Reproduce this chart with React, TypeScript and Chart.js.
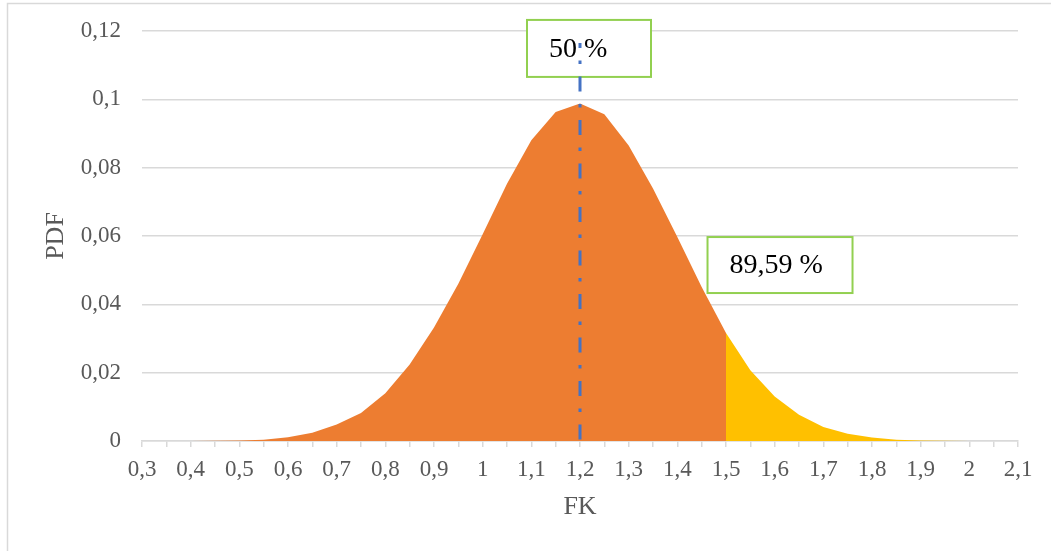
import React, { useEffect, useRef } from 'react';
import { Chart, registerables } from 'chart.js';

Chart.register(...registerables);

// FK values and PDF (step 0.05)
const fkLeft = [0.3, 0.35, 0.4, 0.45, 0.5, 0.55, 0.6, 0.65, 0.7, 0.75, 0.8, 0.85, 0.9, 0.95, 1.0, 1.05, 1.1, 1.15, 1.2, 1.25, 1.3, 1.35, 1.4, 1.45, 1.5];
const pdfLeft = [0.000003, 0.000008, 0.00002, 0.00006, 0.00016, 0.0004, 0.0011, 0.0024, 0.0048, 0.0082, 0.014, 0.0224, 0.0332, 0.046, 0.0605, 0.0753, 0.088, 0.0963, 0.0988, 0.0956, 0.0865, 0.0739, 0.0597, 0.0451, 0.0316];
const fkRight = [1.5, 1.55, 1.6, 1.65, 1.7, 1.75, 1.8, 1.85, 1.9, 1.95, 2.0, 2.05, 2.1];
const pdfRight = [0.0316, 0.0207, 0.013, 0.0077, 0.0041, 0.0021, 0.001, 0.0004, 0.00015, 0.00005, 0.00002, 0.000005, 0.000001];

// mean line (drawn top to bottom)
const meanFK = [1.2, 1.2];
const meanPDF = [0.1165, -0.0016];

// axis ranges
const xMin = 0.3;
const xMax = 2.1;
const xStep = 0.05;
const yMin = 0;
const yMax = 0.12;
const yStep = 0.02;

// annotation labels
const annotationTexts = ['50 %', '89,59 %'];
const annotationFK = [1.2185, 1.611];
const annotationPDF = [0.1149, 0.0515];

const SERIF = '"Liberation Serif", "Times New Roman", serif';

const toComma = (v: number, digits: number) =>
  String(parseFloat(v.toFixed(digits))).replace('.', ',');

const boxPlugin = {
  id: 'boxes',
  beforeDraw(chart: any) {
    const ctx = chart.ctx;
    ctx.save();
    ctx.fillStyle = '#ffffff';
    ctx.fillRect(0, 0, chart.width, chart.height);
    ctx.strokeStyle = '#d9d9d9';
    ctx.lineWidth = 1.5;
    ctx.strokeRect(7.5, 3.5, chart.width + 20, chart.height + 20);
    ctx.restore();
  },
  beforeDatasetsDraw(chart: any) {
    const { ctx, scales } = chart;
    const boxW = [124, 145];
    const boxH = [57, 56];
    ctx.save();
    annotationTexts.forEach((t, i) => {
      const cx = scales.x.getPixelForValue(annotationFK[i]);
      const cy = scales.y.getPixelForValue(annotationPDF[i]);
      const left = cx - boxW[i] / 2;
      const top = cy - boxH[i] / 2;
      ctx.fillStyle = '#ffffff';
      ctx.fillRect(left, top, boxW[i], boxH[i]);
      ctx.strokeStyle = '#92D050';
      ctx.lineWidth = 2;
      ctx.strokeRect(left, top, boxW[i], boxH[i]);
      ctx.fillStyle = '#000000';
      ctx.font = `28px ${SERIF}`;
      ctx.textAlign = 'left';
      ctx.textBaseline = 'middle';
      ctx.fillText(t, left + 22, cy + 1);
    });
    ctx.restore();
  },
};

export default function App() {
  const ref = useRef<HTMLCanvasElement>(null);

  useEffect(() => {
    if (!ref.current) return;
    const chart = new Chart(ref.current, {
      type: 'line',
      data: {
        datasets: [
          {
            label: 'mean',
            data: meanFK.map((x, i) => ({ x, y: meanPDF[i] })),
            borderColor: '#4472C4',
            borderWidth: 3,
            borderDash: [15, 12.5, 3.5, 12.5],
            borderDashOffset: 10,
            borderCapStyle: 'butt',
            pointRadius: 0,
            fill: false,
            clip: false as any,
            order: 0,
          },
          {
            label: 'left',
            data: fkLeft.map((x, i) => ({ x, y: pdfLeft[i] })),
            borderWidth: 0,
            borderColor: 'rgba(0,0,0,0)',
            backgroundColor: '#ED7D31',
            pointRadius: 0,
            fill: 'origin',
            tension: 0,
            order: 1,
          },
          {
            label: 'right',
            data: fkRight.map((x, i) => ({ x, y: pdfRight[i] })),
            borderWidth: 0,
            borderColor: 'rgba(0,0,0,0)',
            backgroundColor: '#FFC000',
            pointRadius: 0,
            fill: 'origin',
            tension: 0,
            order: 2,
          },
        ],
      },
      options: {
        animation: false,
        responsive: false,
        devicePixelRatio: 1,
        layout: { padding: { left: 0, top: 31, right: 33, bottom: 0 } },
        plugins: {
          legend: { display: false },
          tooltip: { enabled: false },
          title: { display: false },
        },
        scales: {
          x: {
            type: 'linear',
            min: xMin,
            max: xMax,
            afterFit: (s: any) => {
              s.height = 110;
              s.paddingLeft = 0;
              s.paddingRight = 0;
            },
            afterBuildTicks: (s: any) => {
              const ticks = [];
              const n = Math.round((xMax - xMin) / xStep);
              for (let i = 0; i <= n; i++) ticks.push({ value: parseFloat((xMin + i * xStep).toFixed(2)) });
              s.ticks = ticks;
            },
            ticks: {
              autoSkip: false,
              maxRotation: 0,
              minRotation: 0,
              padding: 9,
              color: '#595959',
              font: { family: SERIF, size: 23 },
              callback: (v: any) => {
                const val = Number(v);
                if (Math.round(val * 100) % 10 !== 0) return '';
                return toComma(val, 1);
              },
            },
            grid: {
              display: true,
              drawOnChartArea: false,
              drawTicks: true,
              tickLength: 6,
              color: '#d9d9d9',
              lineWidth: 1.5,
            },
            border: { display: true, color: '#d9d9d9', width: 1.5 },
            title: {
              display: true,
              text: 'FK',
              color: '#595959',
              font: { family: SERIF, size: 26 },
              padding: { top: 28, bottom: 28 },
            },
          },
          y: {
            min: yMin,
            max: yMax,
            afterFit: (s: any) => {
              s.width = 142;
              s.paddingTop = 0;
              s.paddingBottom = 0;
            },
            ticks: {
              stepSize: yStep,
              padding: 21,
              color: '#595959',
              font: { family: SERIF, size: 23 },
              callback: (v: any) => toComma(Number(v), 2),
            },
            grid: {
              drawTicks: false,
              color: '#d9d9d9',
              lineWidth: 1.5,
            },
            border: { display: false },
            title: {
              display: true,
              text: 'PDF',
              color: '#595959',
              font: { family: SERIF, size: 26 },
              padding: { top: 41, bottom: 41 },
            },
          },
        },
      },
      plugins: [boxPlugin],
    });
    return () => chart.destroy();
  }, []);

  return (
    <div style={{ position: 'fixed', left: 0, top: 0, width: 1051, height: 551, background: '#fff' }}>
      <canvas ref={ref} width={1051} height={551} style={{ display: 'block', width: 1051, height: 551 }} />
    </div>
  );
}
